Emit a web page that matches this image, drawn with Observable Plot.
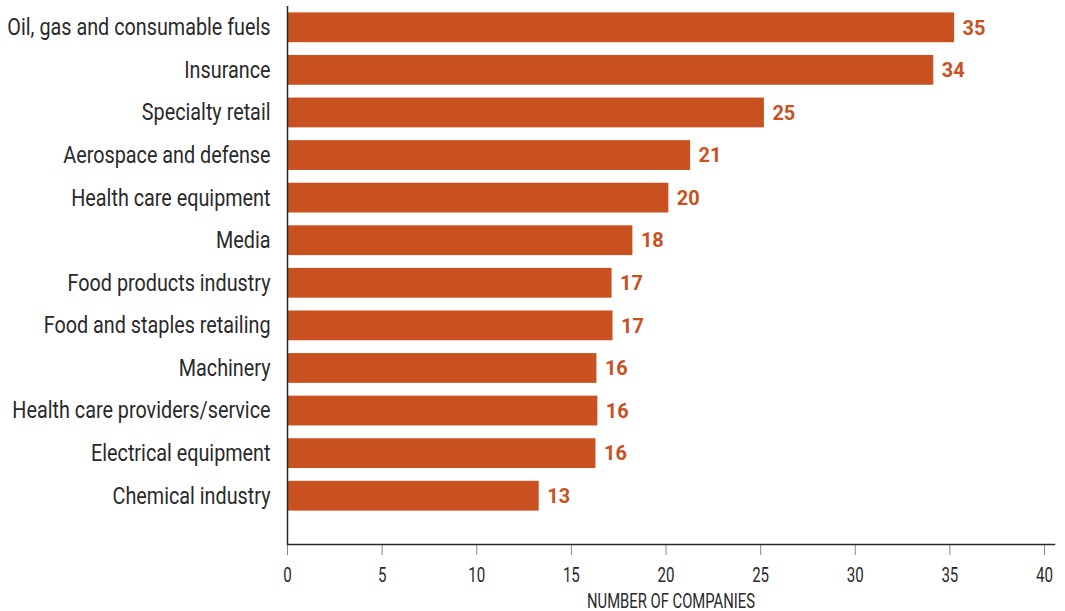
<!DOCTYPE html>
<html>
<head>
<meta charset="utf-8">
<script src="https://cdn.jsdelivr.net/npm/d3@7"></script>
<script src="https://cdn.jsdelivr.net/npm/@observablehq/plot@0.6"></script>
<style>
  html, body { margin: 0; padding: 0; background: #fff; }
  #chart svg { display: block; }
</style>
</head>
<body>
<div id="chart"></div>
<script>
const categories = [
  "Oil, gas and consumable fuels",
  "Insurance",
  "Specialty retail",
  "Aerospace and defense",
  "Health care equipment",
  "Media",
  "Food products industry",
  "Food and staples retailing",
  "Machinery",
  "Health care providers/service",
  "Electrical equipment",
  "Chemical industry"
];
const values = [35.25, 34.15, 25.2, 21.3, 20.15, 18.25, 17.15, 17.2, 16.35, 16.4, 16.3, 13.3];
const valueLabels = ["35", "34", "25", "21", "20", "18", "17", "17", "16", "16", "16", "13"];
const xTicks = [0, 5, 10, 15, 20, 25, 30, 35, 40];
const xTitle = "NUMBER OF COMPANIES";

const data = categories.map((c, i) => ({category: c, value: values[i], label: valueLabels[i]}));

const FONT = "Roboto, 'DejaVu Sans', sans-serif";
const ORANGE = "#c9511f";
const INK = "#2a2a2a";

const chart = Plot.plot({
  width: 1065,
  height: 611,
  marginLeft: 287,
  marginRight: 11,
  marginTop: 6,
  marginBottom: 67,
  style: {fontFamily: FONT, color: INK, background: "#fff"},
  x: {domain: [0, 40], insetRight: 10},
  y: {domain: categories, paddingInner: 0.3, paddingOuter: 0.15, insetBottom: 27, round: false},
  marks: [
    Plot.barX(data, {y: "category", x: "value", fill: ORANGE}),
    Plot.text(data, {
      y: "category", x: "value", text: "label",
      dx: 8, textAnchor: "start", fill: ORANGE,
      fontSize: 21, fontWeight: "bold"
    }),
    Plot.ruleX([0], {stroke: INK, strokeWidth: 1.5}),
    Plot.axisY({
      tickSize: 0, tickPadding: 17, fontSize: 23, label: null, fill: INK
    }),
    Plot.axisX({
      ticks: xTicks, tickSize: 11, tickPadding: 12, fontSize: 21,
      stroke: "#888", fill: INK, label: null
    }),
    Plot.frame({anchor: "bottom", stroke: INK, strokeWidth: 1.5}),
    Plot.text([xTitle], {
      frameAnchor: "bottom", lineAnchor: "bottom", dy: 63, fontSize: 20, fill: INK
    })
  ]
});
document.getElementById("chart").appendChild(chart);

// Emulate the condensed typeface of the original by narrowing the glyphs.
const yLabelSet = new Set(categories);
const valueSet = new Set(valueLabels);
const tickSet = new Set(xTicks.map(String));
chart.querySelectorAll("text").forEach(t => {
  const s = t.textContent;
  let factor = null;
  if (s === xTitle) factor = 0.74;
  else if (yLabelSet.has(s)) factor = 0.86;
  else if (t.closest('g[aria-label="x-axis tick label"]') && tickSet.has(s)) factor = 0.72;
  else if (valueSet.has(s)) factor = 0.95;
  if (factor == null) return;
  const w = t.getComputedTextLength();
  t.setAttribute("textLength", (w * factor).toFixed(2));
  t.setAttribute("lengthAdjust", "spacingAndGlyphs");
});
</script>
</body>
</html>
